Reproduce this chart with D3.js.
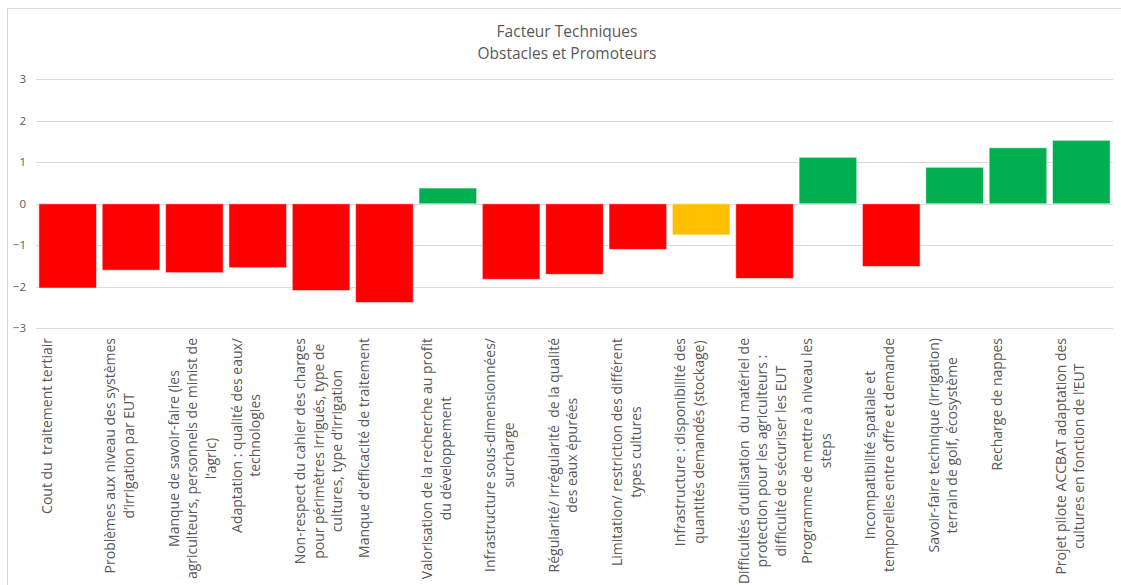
<!DOCTYPE html>
<html>
<head>
<meta charset="utf-8">
<script src="https://cdn.jsdelivr.net/npm/d3@7"></script>
<style>
  html, body { margin: 0; padding: 0; background: #fff; }
  svg { display: block; }
  text { font-family: "Open Sans", Lato, sans-serif; }
</style>
</head>
<body>
<script>
const titleLines = ["Facteur Techniques", "Obstacles et Promoteurs"];

const categories = [
  "Cout du  traitement tertiair",
  "Problèmes aux niveau des systèmes\nd’irrigation par EUT",
  "Manque de savoir-faire (les\nagriculteurs, personnels de minist de\nl’agric)",
  "Adaptation : qualité des eaux/\ntechnologies",
  "Non-respect du cahier des charges\npour périmètres irrigués, type de\ncultures, type d’irrigation",
  "Manque d’efficacité de traitement",
  "Valorisation de la recherche au profit\ndu développement",
  "Infrastructure sous-dimensionnées/\nsurcharge",
  "Régularité/ irrégularité  de la qualité\ndes eaux épurées",
  "Limitation/ restriction des différent\ntypes cultures",
  "Infrastructure : disponibilité des\nquantités demandés (stockage)",
  "Difficultés d’utilisation  du matériel de\nprotection pour les agriculteurs :\ndifficulté de sécuriser les EUT",
  "Programme de mettre à niveau les\nsteps",
  "Incompatibilité spatiale et\ntemporelles entre offre et demande",
  "Savoir-faire technique (irrigation)\nterrain de golf, écosystème",
  "Recharge de nappes",
  "Projet pilote ACCBAT adaptation des\ncultures en fonction de l’EUT"
];

const values = [-2.03, -1.60, -1.66, -1.54, -2.09, -2.38, 0.38, -1.82, -1.70, -1.10, -0.75, -1.80, 1.12, -1.51, 0.88, 1.35, 1.53];

const types = ["obstacle","obstacle","obstacle","obstacle","obstacle","obstacle","promoteur",
  "obstacle","obstacle","obstacle","neutre","obstacle","promoteur","obstacle","promoteur","promoteur","promoteur"];

const typeNames = ["obstacle", "neutre", "promoteur"];
const typeColors = ["#FF0000", "#FFC000", "#00B050"];

const yTicks = [-3, -2, -1, 0, 1, 2, 3];

const W = 1121, H = 585;

const svg = d3.select("body").append("svg").attr("width", W).attr("height", H);

// chart frame
svg.append("rect")
  .attr("x", 7.5).attr("y", 8.5)
  .attr("width", W + 10).attr("height", H + 10)
  .attr("fill", "#fff").attr("stroke", "#d9d9d9").attr("stroke-width", 1);

const x = d3.scaleBand()
  .domain(d3.range(categories.length))
  .range([36, 1113])
  .paddingInner(0.09)
  .paddingOuter(0.045);

const y = d3.scaleLinear().domain([-3, 3]).range([328.3, 79.3]);
const color = d3.scaleOrdinal().domain(typeNames).range(typeColors);

// title
const title = svg.append("text")
  .attr("x", 567).attr("y", 37)
  .attr("text-anchor", "middle")
  .attr("fill", "#595959")
  .style("font-size", "15.5px");
titleLines.forEach((t, i) => {
  title.append("tspan").attr("x", 567).attr("dy", i === 0 ? 0 : 22).text(t);
});

// gridlines
svg.append("g")
  .selectAll("line")
  .data(yTicks)
  .join("line")
  .attr("x1", 36).attr("x2", 1113)
  .attr("y1", d => Math.round(y(d)) + 0.5).attr("y2", d => Math.round(y(d)) + 0.5)
  .attr("stroke", "#d9d9d9").attr("stroke-width", 1);

// y axis labels
const yAxis = d3.axisLeft(y).tickValues(yTicks).tickSize(0).tickPadding(0).tickFormat(d3.format("d"));
const ga = svg.append("g").attr("transform", "translate(26,0)").call(yAxis);
ga.select(".domain").remove();
ga.selectAll("text").attr("fill", "#595959").style("font-size", "11.5px")
  .style("font-family", "'Open Sans', sans-serif");

// bars
svg.append("g")
  .selectAll("rect")
  .data(values)
  .join("rect")
  .attr("x", (d, i) => x(i))
  .attr("width", x.bandwidth())
  .attr("y", d => y(Math.max(0, d)))
  .attr("height", d => Math.abs(y(d) - y(0)))
  .attr("fill", (d, i) => color(types[i]))
  .attr("stroke", "rgba(255,255,255,0.55)")
  .attr("stroke-width", 1);

// category labels (rotated, Excel style)
const step = x.step();
const bandLeft = i => 36 + step * i;
const labelTop = 338;
const lineStep = 18.5;
const gl = svg.append("g");
categories.forEach((c, i) => {
  const lines = c.split("\n");
  const g = gl.append("g");
  const texts = lines.map((ln, k) => g.append("text")
    .attr("fill", "#595959")
    .style("font-size", "14px")
    .style("white-space", "pre")
    .attr("text-anchor", "middle")
    .attr("dy", "0.35em")
    .text(ln));
  const maxW = d3.max(texts, t => t.node().getComputedTextLength());
  texts.forEach((t, k) => {
    const cx = bandLeft(i) + 11 + k * lineStep;
    const cy = labelTop + maxW / 2;
    t.attr("transform", `translate(${cx},${cy}) rotate(-90)`);
  });
});
</script>
</body>
</html>
